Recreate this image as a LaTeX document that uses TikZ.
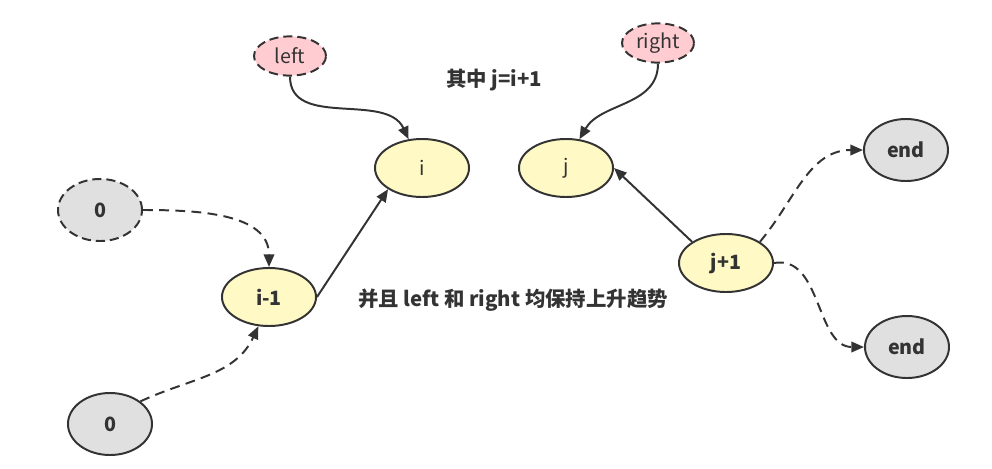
\documentclass[tikz,border=0pt]{standalone}
\usepackage{fontspec}
\setmainfont{Noto Sans CJK SC}
\usepackage{tikz}
\usetikzlibrary{positioning}
\usetikzlibrary{shapes.geometric, arrows.meta}

\definecolor{linegray}{HTML}{333333}
\definecolor{nodeyellow}{HTML}{FFF9C6}
\definecolor{nodegray}{HTML}{E0E0E0}
\definecolor{nodepink}{HTML}{FFCCD2}

\tikzset{
    base/.style={ellipse, draw=linegray, line width=1.4pt, inner sep=0pt,
        text=linegray, font=\fontsize{14}{16}\selectfont},
    yellownode/.style={base, fill=nodeyellow, minimum width=2.35cm, minimum height=1.45cm},
    graynode/.style={base, fill=nodegray, minimum width=2.1cm, minimum height=1.55cm,
        font=\fontsize{14}{16}\selectfont\bfseries},
    longdash/.style={dash pattern=on 6.5pt off 3.5pt},
    pointer/.style={base, longdash, fill=nodepink, minimum width=1.8cm, minimum height=0.98cm},
    link/.style={draw=linegray, line width=1.4pt, -{Triangle[length=9pt, width=7.5pt]}},
    dashlink/.style={link, dash pattern=on 7pt off 4.5pt},
    note/.style={text=linegray, font=\fontsize{14.5}{16}\selectfont\bfseries}
}

\begin{document}
\begin{tikzpicture}[x=0.025cm, y=-0.025cm]
        \useasboundingbox (0, 0) rectangle (992, 468);
        % pointers
        \node[pointer] (left) at (290, 56) {left};
        \node[pointer] (right) at (658, 43) {right};
        % middle elements
        \node[yellownode] (i) at (422, 168) {i};
        \node[yellownode] (j) at (566, 168) {j};
        \node[yellownode, font=\fontsize{14}{16}\selectfont\bfseries] (im1) at (269, 297) {i-1};
        \node[yellownode, font=\fontsize{14}{16}\selectfont\bfseries] (jp1) at (726, 263) {j+1};
        % ends
        \node[graynode, longdash] (zeroA) at (100, 210) {0};
        \node[graynode] (zeroB) at (110, 424) {0};
        \node[graynode] (endA) at (906, 150) {end};
        \node[graynode] (endB) at (907, 347) {end};
        % notes
        \node[note] (eq) at (494, 80) {其中 j=i+1};
        \node[note] (rise) at (513, 300) {并且 left 和 right 均保持上升趋势};

        \draw[link] (left.south) to[out=-90, in=115] (i.115);
        \draw[link] (right.south) to[out=-90, in=60] (j.65);
        \draw[link] (im1.east) -- (i.south west);
        \draw[link] (jp1.north west) -- (j.east);
        \draw[dashlink] (zeroA.east) to[out=0, in=90] (im1.north);
        \draw[dashlink] (zeroB.north east) to[out=25, in=-115] (im1.-110);
        \draw[dashlink] (jp1.north east) to[out=50, in=180] (endA.west);
        \draw[dashlink] (jp1.east) to[out=10, in=180] (endB.west);
    \end{tikzpicture}
\end{document}
